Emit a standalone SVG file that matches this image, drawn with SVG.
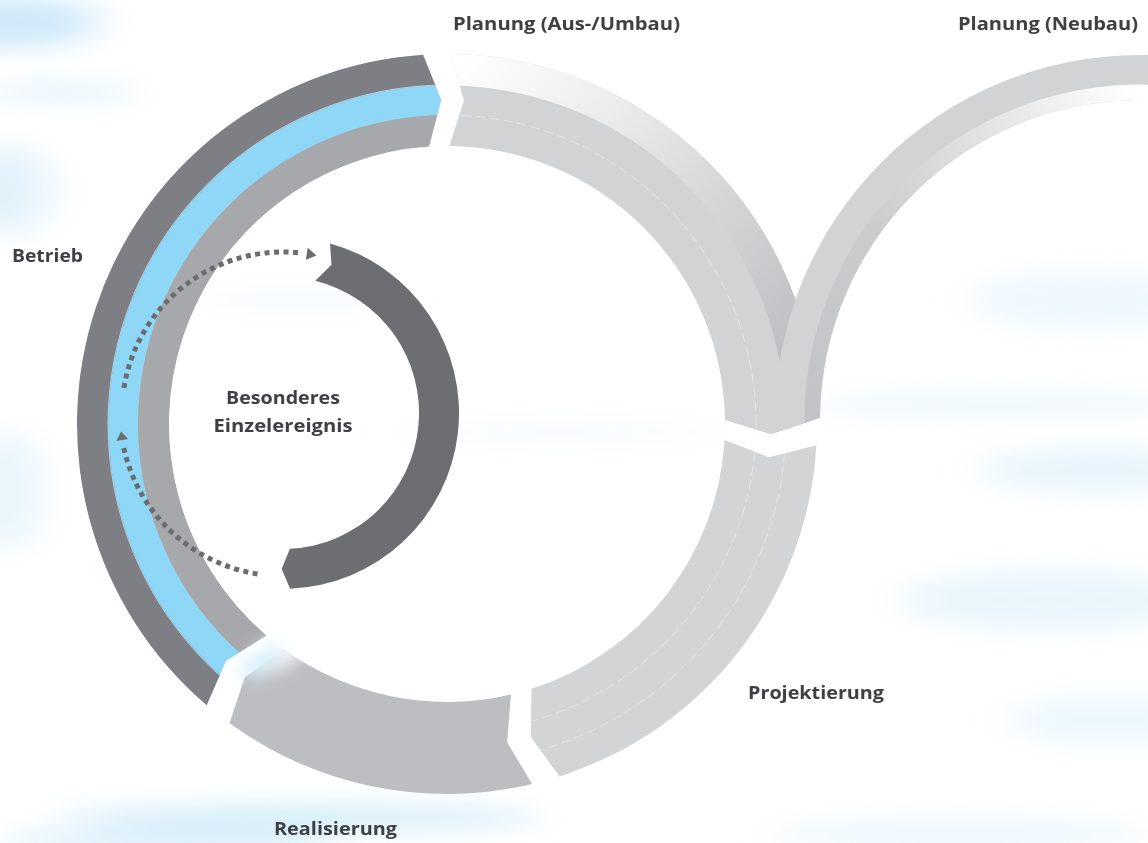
<svg xmlns="http://www.w3.org/2000/svg" width="1148" height="843" viewBox="0 0 1148 843">
  <style>
    .lbl { font-family: "Open Sans", "Noto Sans", "Liberation Sans", sans-serif; font-weight: 700; font-size: 18.5px; fill: #3f4044; }
    .dots { fill: none; stroke: #6b6c70; stroke-width: 5; stroke-dasharray: 5 4.5; }
    .head { fill: #6b6c70; }
    .seam { fill: none; stroke: #e6e7e8; stroke-width: 1; stroke-dasharray: 10 4; opacity: 0.8; }
    .sky { fill: #c9e7f8; }
  </style>
  <defs>
    <filter id="soft" x="-50%" y="-50%" width="200%" height="200%">
      <feGaussianBlur stdDeviation="22 12"/>
    </filter>
    <filter id="glow" x="-50%" y="-50%" width="200%" height="200%">
      <feGaussianBlur stdDeviation="8"/>
    </filter>

    <linearGradient id="gPlanOuter" gradientUnits="userSpaceOnUse" x1="455" y1="60" x2="800" y2="400">
      <stop offset="0" stop-color="#ffffff"/>
      <stop offset="0.3" stop-color="#ececed"/>
      <stop offset="0.6" stop-color="#d4d5d7"/>
      <stop offset="1" stop-color="#b8b9bc"/>
    </linearGradient>
    <linearGradient id="gNeuInner" gradientUnits="userSpaceOnUse" x1="800" y1="420" x2="1140" y2="95">
      <stop offset="0" stop-color="#c2c3c6"/>
      <stop offset="0.4" stop-color="#cbccce"/>
      <stop offset="0.75" stop-color="#e6e6e7"/>
      <stop offset="1" stop-color="#ffffff"/>
    </linearGradient>

    <!-- ring segments around (447,424), radii 278 / 309 / 339 / 370 -->
    <path id="pBetrieb" d="M206.70,705.35 A370,370 0 0 1 423.12,54.77 L441.35,100.05 L429.06,146.58 A278,278 0 0 0 266.45,635.39 L226.03,660.96 Z"/>
    <path id="pPlanung" d="M450.23,54.01 A370,370 0 0 1 816.96,418.83 L770.84,434.18 L724.97,420.12 A278,278 0 0 0 449.43,146.01 L463.96,100.44 Z"/>
    <path id="pProjekt" d="M816.39,445.30 A370,370 0 0 1 559.49,776.48 L530.86,736.96 L531.52,688.84 A278,278 0 0 0 724.54,440.00 L769.28,457.30 Z"/>
    <path id="pReal" d="M532.12,784.08 A370,370 0 0 1 229.52,723.34 L244.86,677.21 L283.59,648.91 A278,278 0 0 0 510.95,694.54 L507.15,742.37 Z"/>
    <!-- second arc around (1140,420), radii 320 / 335 / 365 -->
    <path id="pNeubau" d="M1150,55 L1140,55 A365,365 0 0 0 775,420 L775.2,432.7 L820,417.8 A320,320 0 0 1 1140,100 L1150,100 Z"/>

    <clipPath id="cBetrieb"><use href="#pBetrieb"/></clipPath>
    <clipPath id="cPlanung"><use href="#pPlanung"/></clipPath>
    <clipPath id="cProjekt"><use href="#pProjekt"/></clipPath>
    <clipPath id="cNeubau"><use href="#pNeubau"/></clipPath>
  </defs>

  <!-- sky background -->
  <g id="background">
    <rect width="1148" height="843" fill="#ffffff"/>
    <g filter="url(#soft)">
      <ellipse class="sky" cx="10" cy="22" rx="90" ry="26" opacity="0.9"/>
      <ellipse class="sky" cx="60" cy="92" rx="80" ry="8" opacity="0.6"/>
      <ellipse class="sky" cx="5" cy="190" rx="45" ry="45" opacity="0.55"/>
      <ellipse class="sky" cx="5" cy="490" rx="35" ry="60" opacity="0.45"/>
      <ellipse class="sky" cx="1090" cy="300" rx="120" ry="30" opacity="0.3"/>
      <ellipse class="sky" cx="1000" cy="405" rx="190" ry="10" opacity="0.4"/>
      <ellipse class="sky" cx="1100" cy="470" rx="120" ry="22" opacity="0.45"/>
      <ellipse class="sky" cx="1050" cy="600" rx="150" ry="30" opacity="0.4"/>
      <ellipse class="sky" cx="1110" cy="720" rx="100" ry="24" opacity="0.35"/>
      <ellipse class="sky" cx="960" cy="835" rx="190" ry="18" opacity="0.3"/>
      <ellipse class="sky" cx="300" cy="818" rx="240" ry="12" opacity="0.85"/>
      <ellipse class="sky" cx="170" cy="843" rx="170" ry="12" opacity="0.7"/>
      <ellipse class="sky" cx="560" cy="432" rx="170" ry="8" opacity="0.2"/>
      <ellipse class="sky" cx="300" cy="300" rx="100" ry="10" opacity="0.2"/>
    </g>
  </g>

  <!-- Betrieb: outer dark, middle blue, inner grey -->
  <g id="betrieb">
    <g clip-path="url(#cBetrieb)">
      <circle cx="447" cy="424" r="293.5" fill="none" stroke="#a7a8ac" stroke-width="32"/>
      <circle cx="447" cy="424" r="324" fill="none" stroke="#8ed7f6" stroke-width="30"/>
      <circle cx="447" cy="424" r="354.5" fill="none" stroke="#7e7f84" stroke-width="32"/>
      <circle cx="447" cy="424" r="339" fill="none" stroke="#c4e6f6" stroke-width="0.8"/>
    </g>
    <text class="lbl" x="12" y="262" textLength="71" lengthAdjust="spacingAndGlyphs">Betrieb</text>
  </g>

  <!-- Planung (Aus-/Umbau) -->
  <g id="planung-umbau">
    <use href="#pPlanung" fill="#d2d3d5"/>
    <g clip-path="url(#cPlanung)">
      <circle cx="447" cy="424" r="354.5" fill="none" stroke="url(#gPlanOuter)" stroke-width="32"/>
      <circle class="seam" cx="447" cy="424" r="309"/>
    </g>
    <text class="lbl" x="453" y="30" textLength="227" lengthAdjust="spacingAndGlyphs">Planung (Aus-/Umbau)</text>
  </g>

  <!-- Planung (Neubau) -->
  <g id="planung-neubau">
    <use href="#pNeubau" fill="#d2d3d5"/>
    <g clip-path="url(#cNeubau)">
      <circle cx="1140" cy="420" r="327.5" fill="none" stroke="url(#gNeuInner)" stroke-width="16"/>
    </g>
    <text class="lbl" x="958" y="30" textLength="180" lengthAdjust="spacingAndGlyphs">Planung (Neubau)</text>
  </g>

  <!-- Projektierung -->
  <g id="projektierung">
    <use href="#pProjekt" fill="#d3d4d6"/>
    <g clip-path="url(#cProjekt)">
      <circle class="seam" cx="447" cy="424" r="309"/>
      <circle class="seam" cx="447" cy="424" r="339"/>
    </g>
    <text class="lbl" x="748" y="699" textLength="136" lengthAdjust="spacingAndGlyphs">Projektierung</text>
  </g>

  <!-- Realisierung -->
  <g id="realisierung">
    <use href="#pReal" fill="#bdbec1"/>
    <text class="lbl" x="274" y="835" textLength="123" lengthAdjust="spacingAndGlyphs">Realisierung</text>
  </g>

  <!-- light haze over the Realisierung / Betrieb joint -->
  <g filter="url(#glow)">
    <ellipse cx="285" cy="648" rx="48" ry="16" transform="rotate(-32 285 648)" fill="#ffffff" opacity="0.9"/>
    <ellipse cx="262" cy="662" rx="26" ry="9" transform="rotate(-32 262 662)" fill="#bfe6f8" opacity="0.7"/>
  </g>

  <!-- Besonderes Einzelereignis: arc around (283,413), radii 136 / 176 -->
  <g id="einzelereignis">
    <path d="M330.03,243.40 A176,176 0 0 1 290.06,588.86 L281.64,569.0 L289.88,548.83 A136,136 0 0 0 315.21,280.87 L331.47,264.72 Z" fill="#6d6e72"/>
    <text class="lbl" x="283" y="404" text-anchor="middle" textLength="114" lengthAdjust="spacingAndGlyphs">Besonderes</text>
    <text class="lbl" x="283" y="432" text-anchor="middle" textLength="139" lengthAdjust="spacingAndGlyphs">Einzelereignis</text>
  </g>

  <!-- dotted return paths -->
  <g id="connectors">
    <path class="dots" d="M257.5,574.0 A163,163 0 0 1 123.27,445.5"/>
    <polygon class="head" points="121.05,431.45 116.32,440.89 128.16,438.91"/>
    <path class="dots" d="M123.98,387.81 A161,161 0 0 1 301.23,253.04"/>
    <polygon class="head" points="316.47,255.52 307.69,247.84 305.91,259.70"/>
  </g>
</svg>
